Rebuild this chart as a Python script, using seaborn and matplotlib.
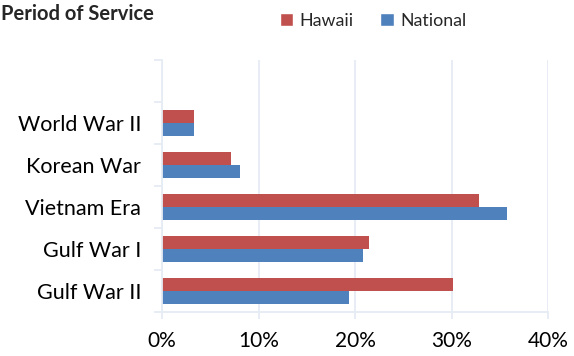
import matplotlib
matplotlib.use("Agg")
import matplotlib.pyplot as plt
import seaborn as sns
import pandas as pd
from matplotlib.ticker import FixedLocator, PercentFormatter
from matplotlib.patches import Patch

periods = ["World War II", "Korean War", "Vietnam Era", "Gulf War I", "Gulf War II"]
hawaii = [3.3, 7.1, 32.8, 21.5, 30.2]
national = [3.3, 8.1, 35.7, 20.8, 19.4]
series = ["Hawaii", "National"]
colors = ["#C0504D", "#4F81BD"]

df = pd.DataFrame({
    "period": periods * 2,
    "share": hawaii + national,
    "group": [series[0]] * len(periods) + [series[1]] * len(periods),
})

sns.set_style("white")
plt.rcParams["font.family"] = ["Lato", "DejaVu Sans"]

fig = plt.figure(figsize=(5.74, 3.56), dpi=100)
ax = fig.add_axes([162 / 574, 1 - 312 / 356, (548 - 162) / 574, (312 - 60) / 356])

sns.barplot(data=df, y="period", x="share", hue="group", order=periods,
            hue_order=series, palette=colors, orient="h", width=0.64,
            saturation=1, linewidth=0, ax=ax, legend=False)

grid_c = "#E6ECF4"
ax.set_xlim(0, 40)
ax.set_ylim(len(periods) - 0.5, -1.5)
ax.xaxis.set_major_locator(FixedLocator([0, 10, 20, 30, 40]))
ax.xaxis.set_major_formatter(PercentFormatter(decimals=0))
ax.grid(axis="x", color=grid_c, linewidth=1.3)
ax.set_axisbelow(True)
ax.set_xlabel("")
ax.set_ylabel("")

for side in ["top", "right"]:
    ax.spines[side].set_visible(False)
for side in ["left", "bottom"]:
    ax.spines[side].set_color(grid_c)
    ax.spines[side].set_linewidth(1.3)

ax.tick_params(axis="x", length=5, width=1.3, color=grid_c, pad=9,
               labelsize=15, labelcolor="black", bottom=True)
ax.tick_params(axis="y", which="major", length=0, pad=15,
               labelsize=15.5, labelcolor="black")
ax.yaxis.set_minor_locator(FixedLocator([i - 0.5 for i in range(len(periods) + 1)] + [-1.5]))
ax.tick_params(axis="y", which="minor", length=6, width=1.3, color=grid_c, left=True)

handles = [Patch(facecolor=c, label=s) for c, s in zip(colors, series)]
fig.legend(handles=handles, loc="center", bbox_to_anchor=(373 / 574, 1 - 21 / 356),
           ncol=2, frameon=False, fontsize=12.8, handlelength=0.75, handleheight=0.75,
           handletextpad=0.35, columnspacing=1.5)

fig.text(1 / 574, 1 - 14 / 356, "Period of Service", fontsize=14.5, fontweight="bold",
         ha="left", va="center")

fig.savefig("out.png", dpi=100)
